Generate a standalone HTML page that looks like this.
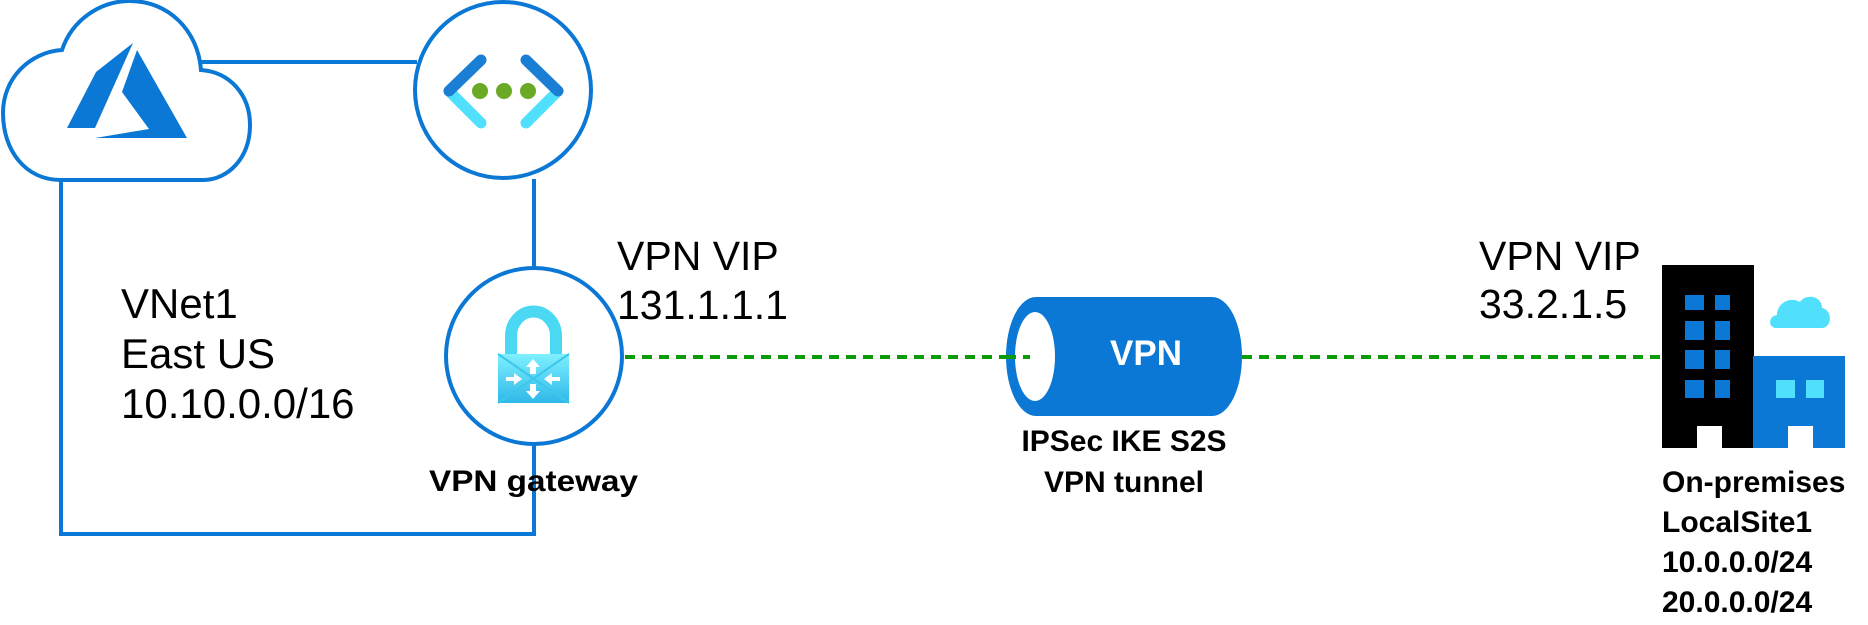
<!DOCTYPE html>
<html><head><meta charset="utf-8"><style>
html,body{margin:0;padding:0;background:#fff;}
svg{display:block;}
text{font-family:"Liberation Sans",Arial,sans-serif;}
</style></head><body>
<svg width="1868" height="625" viewBox="0 0 1868 625" xmlns="http://www.w3.org/2000/svg">
<defs>
<linearGradient id="lk" x1="0" y1="0" x2="0" y2="1"><stop offset="0" stop-color="#7ef0ff"/><stop offset="1" stop-color="#2fb8e8"/></linearGradient>
</defs>
<!-- frame -->
<g fill="none" stroke="#0a78d4" stroke-width="4">
<path d="M201,62 H417"/>
<path d="M61,180 V534 H534 V444"/>
<path d="M534,179 V267"/>
<path d="M61,180 C25,180 3,150 3,113 C3,78 30,52 62,50 C72,20 100,1 130,1 C168,1 198,30 201,70 C230,72 250,95 250,125 C250,158 228,180 203,180 Z" fill="#fff"/>
<circle cx="503" cy="90" r="88" fill="#fff"/>
<circle cx="534" cy="356" r="88" fill="#fff"/>
</g>
<!-- azure logo -->
<polygon points="67,128 96,72 133,43 95,128" fill="#0a78d4"/>
<polygon points="137,50 187,138 95,138 149,129 122,92" fill="#0a78d4"/>
<!-- network icon -->
<g stroke-linecap="round" stroke-width="11" fill="none">
<path d="M449,91 L481,123" stroke="#50e0fc"/>
<path d="M449,91 L481,60" stroke="#1a7fd4"/>
<path d="M558,91 L526,123" stroke="#50e0fc"/>
<path d="M558,91 L526,60" stroke="#1a7fd4"/>
</g>
<circle cx="480" cy="91" r="8" fill="#6aaa26"/>
<circle cx="504" cy="91" r="8" fill="#6aaa26"/>
<circle cx="528" cy="91" r="8" fill="#6aaa26"/>
<!-- lock -->
<path d="M511,356 V336 A22,24 0 0 1 556,336 V356" fill="none" stroke="#4ad8f2" stroke-width="12"/>
<rect x="498" y="354" width="71" height="49" fill="url(#lk)"/>
<path d="M498,354 L569,403 M569,354 L498,403" stroke="#3cc6ec" stroke-width="2"/>
<g fill="#fff">
<polygon points="533,359 540,367 536,367 536,374 530,374 530,367 526,367"/>
<polygon points="533,399 540,391 536,391 536,384 530,384 530,391 526,391"/>
<polygon points="522,379 514,373 514,377 506,377 506,381 514,381 514,385"/>
<polygon points="544,379 552,373 552,377 560,377 560,381 552,381 552,385"/>
</g>
<!-- dashed -->
<g stroke="#0a9a0a" stroke-width="4" stroke-dasharray="10 7">
<path d="M625,357 H1006"/>
<path d="M1242,357 H1662"/>
</g>
<!-- cylinder -->
<path d="M1036,297 H1212 A30,59.5 0 0 1 1212,416 H1036 A30,59.5 0 0 1 1036,297 Z" fill="#0a78d4"/>
<ellipse cx="1035" cy="356.5" rx="20" ry="44.5" fill="#fff"/>
<path d="M1006,357 H1030" stroke="#0a9a0a" stroke-width="4" stroke-dasharray="10 7"/>
<text x="1146" y="365" font-size="35" font-weight="bold" fill="#fff" text-anchor="middle">VPN</text>
<!-- buildings -->
<rect x="1662" y="265" width="92" height="183" fill="#000"/>
<rect x="1697" y="426" width="25" height="22" fill="#fff"/>
<g fill="#0a78d4">
<rect x="1685" y="295" width="19" height="15"/><rect x="1715" y="295" width="15" height="15"/>
<rect x="1685" y="321" width="19" height="19"/><rect x="1715" y="321" width="15" height="19"/>
<rect x="1685" y="350" width="19" height="19"/><rect x="1715" y="350" width="15" height="19"/>
<rect x="1685" y="380" width="19" height="18"/><rect x="1715" y="380" width="15" height="18"/>
</g>
<rect x="1753" y="356" width="92" height="92" fill="#0a78d4"/>
<rect x="1788" y="426" width="25" height="22" fill="#fff"/>
<rect x="1776" y="380" width="19" height="18" fill="#50e0fc"/>
<rect x="1806" y="380" width="18" height="18" fill="#50e0fc"/>
<path d="M1776,328 C1768,328 1768,316 1777,315 C1777,303 1790,296 1800,302 C1806,293 1822,296 1822,308 C1833,310 1832,328 1822,328 Z" fill="#50e0fc"/>
<!-- text -->
<g font-size="42" fill="#000">
<text x="121" y="318">VNet1</text>
<text x="121" y="368">East US</text>
<text x="121" y="418">10.10.0.0/16</text>
</g>
<g font-size="41" fill="#000">
<text x="617" y="270">VPN VIP</text>
<text x="617" y="319">131.1.1.1</text>
<text x="1479" y="270">VPN VIP</text>
<text x="1479" y="318">33.2.1.5</text>
</g>
<g font-size="30" font-weight="bold" fill="#000">
<text x="429" y="491" textLength="209" lengthAdjust="spacingAndGlyphs">VPN gateway</text>
<text x="1124" y="451" text-anchor="middle">IPSec IKE S2S</text>
<text x="1124" y="492" text-anchor="middle">VPN tunnel</text>
<text x="1662" y="492">On-premises</text>
<text x="1662" y="532">LocalSite1</text>
<text x="1662" y="572">10.0.0.0/24</text>
<text x="1662" y="612">20.0.0.0/24</text>
</g>
</svg>
</body></html>
